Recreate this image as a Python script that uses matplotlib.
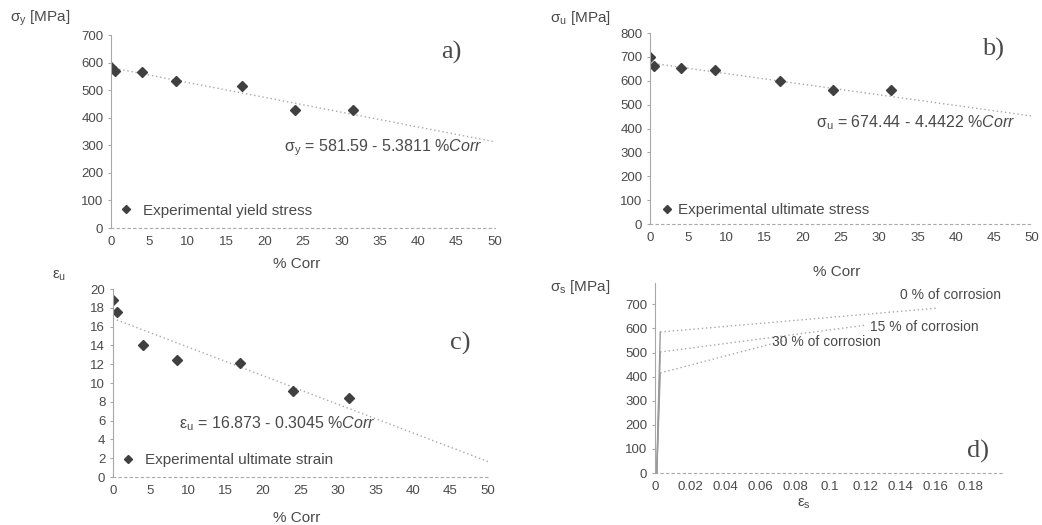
import numpy as np
import matplotlib
matplotlib.use("Agg")
import matplotlib.pyplot as plt

plt.rcParams['font.family'] = ['Liberation Sans', 'DejaVu Sans']
plt.rcParams['mathtext.fontset'] = 'custom'
plt.rcParams['mathtext.rm'] = 'Liberation Serif'
plt.rcParams['mathtext.it'] = 'Liberation Sans:italic'
plt.rcParams['mathtext.default'] = 'regular'

# data
corr = [0, 0.5, 4, 8.5, 17, 24, 31.5]
yield_stress = [585, 570, 567, 533, 515, 428, 428]
ult_stress = [700, 660, 655, 645, 597, 560, 560]
ult_strain = [18.8, 17.6, 14.0, 12.5, 12.1, 9.2, 8.4]

fit_a = (581.59, -5.3811)
fit_b = (674.44, -4.4422)
fit_c = (16.873, -0.3045)

# stress-strain curves (d): strain, stress
strain_0 = [0.001, 0.003, 0.003, 0.161]
stress_0 = [0, 585, 585, 684]
strain_15 = [0.001, 0.003, 0.003, 0.121]
stress_15 = [0, 502, 502, 614]
strain_30 = [0.001, 0.003, 0.003, 0.075]
stress_30 = [0, 415, 415, 552]

txt = '#4a4a4a'
gridc = '#a8a8a8'
mk = '#404040'

fig = plt.figure(figsize=(10.42, 5.25), dpi=100)


def style(ax):
    ax.spines['top'].set_visible(False)
    ax.spines['right'].set_visible(False)
    ax.spines['left'].set_color(gridc)
    ax.spines['bottom'].set_color(gridc)
    ax.spines['bottom'].set_linestyle((0, (2, 3)))
    ax.tick_params(colors=gridc, labelcolor=txt, labelsize=9.5, length=2)
    ax.tick_params(axis='x', length=0, pad=6)
    ax.patch.set_alpha(0)


def scatter_panel(ax, y, fit, label, ylim, yticks, leg_pos, pad):
    xs = np.array([0, 50])
    ax.plot(xs, fit[0] + fit[1] * xs, linestyle=(0, (1, 2)), color='#a8a8a8', lw=1)
    ax.plot(corr, y, linestyle='none', marker='D', markersize=5.5, color=mk, label=label)
    ax.set_xlim(0, 50)
    ax.set_ylim(*ylim)
    ax.set_xticks(range(0, 51, 5))
    ax.set_yticks(yticks)
    style(ax)
    ax.legend(loc='center left', bbox_to_anchor=leg_pos, frameon=False, numpoints=1,
              handlelength=1.0, handletextpad=pad, borderaxespad=0, borderpad=0,
              prop={'size': 11}, labelcolor=txt, markerscale=0.8)


# a)
axa = fig.add_axes([0.1065, 0.5657, 0.3685, 0.3676])
scatter_panel(axa, yield_stress, fit_a, 'Experimental yield stress', (0, 700),
              range(0, 701, 100), (0.02, 0.09), 0.6)
fig.text(0.01, 0.958, r'$\sigma_y$ [MPa]', color=txt, fontsize=11)
axa.text(0.45, 0.40, r'$\sigma_y$ = 581.59 - 5.3811 %$\mathit{Corr}$', transform=axa.transAxes,
         color=txt, fontsize=11.5)
axa.text(0.86, 0.88, 'a)', transform=axa.transAxes, family='Liberation Serif',
         fontsize=19, color=txt)
fig.text(0.285, 0.49, '% Corr', color=txt, fontsize=11, ha='center')

# b)
axb = fig.add_axes([0.6238, 0.5733, 0.3666, 0.3638])
scatter_panel(axb, ult_stress, fit_b, 'Experimental ultimate stress', (0, 800),
              range(0, 801, 100), (0.025, 0.073), 0.2)
fig.text(0.528, 0.958, r'$\sigma_u$ [MPa]', color=txt, fontsize=11)
axb.text(0.435, 0.505, r'$\sigma_u$ = 674.44 - 4.4422 %$\mathit{Corr}$', transform=axb.transAxes,
         color=txt, fontsize=11.5)
axb.text(0.87, 0.88, 'b)', transform=axb.transAxes, family='Liberation Serif',
         fontsize=19, color=txt)
fig.text(0.803, 0.475, '% Corr', color=txt, fontsize=11, ha='center')

# c)
axc = fig.add_axes([0.1084, 0.0914, 0.3599, 0.358])
scatter_panel(axc, ult_strain, fit_c, 'Experimental ultimate strain', (0, 20),
              range(0, 21, 2), (0.02, 0.09), 0.6)
fig.text(0.05, 0.47, r'$\epsilon_u$', color=txt, fontsize=11)
axc.text(0.175, 0.26, r'$\epsilon_u$ = 16.873 - 0.3045 %$\mathit{Corr}$', transform=axc.transAxes,
         color=txt, fontsize=11.5)
axc.text(0.9, 0.68, 'c)', transform=axc.transAxes, family='Liberation Serif',
         fontsize=19, color=txt)
fig.text(0.285, 0.005, '% Corr', color=txt, fontsize=11, ha='center')

# d)
axd = fig.add_axes([0.6286, 0.099, 0.3359, 0.3627])
for sx, sy in [(strain_0, stress_0), (strain_15, stress_15), (strain_30, stress_30)]:
    axd.plot(sx[:2], sy[:2], color='#9a9a9a', lw=1)
    axd.plot(sx[2:], sy[2:], color='#a8a8a8', lw=1, linestyle=(0, (1, 2)))
axd.set_xlim(0, 0.2)
axd.set_ylim(0, 790)
axd.set_xticks([0, 0.02, 0.04, 0.06, 0.08, 0.1, 0.12, 0.14, 0.16, 0.18])
axd.set_xticklabels(['0', '0.02', '0.04', '0.06', '0.08', '0.1', '0.12', '0.14', '0.16', '0.18'])
axd.set_yticks(range(0, 701, 100))
style(axd)
axd.text(0.14, 720, '0 % of corrosion', color=txt, fontsize=10)
axd.text(0.123, 590, '15 % of corrosion', color=txt, fontsize=10)
axd.text(0.067, 525, '30 % of corrosion', color=txt, fontsize=10)
axd.text(0.89, 0.08, 'd)', transform=axd.transAxes, family='Liberation Serif',
         fontsize=19, color=txt)
fig.text(0.528, 0.445, r'$\sigma_s$ [MPa]', color=txt, fontsize=11)
fig.text(0.772, 0.035, r'$\epsilon_s$', color=txt, fontsize=11, ha='center')

fig.savefig('out.png', dpi=100, facecolor='white')
